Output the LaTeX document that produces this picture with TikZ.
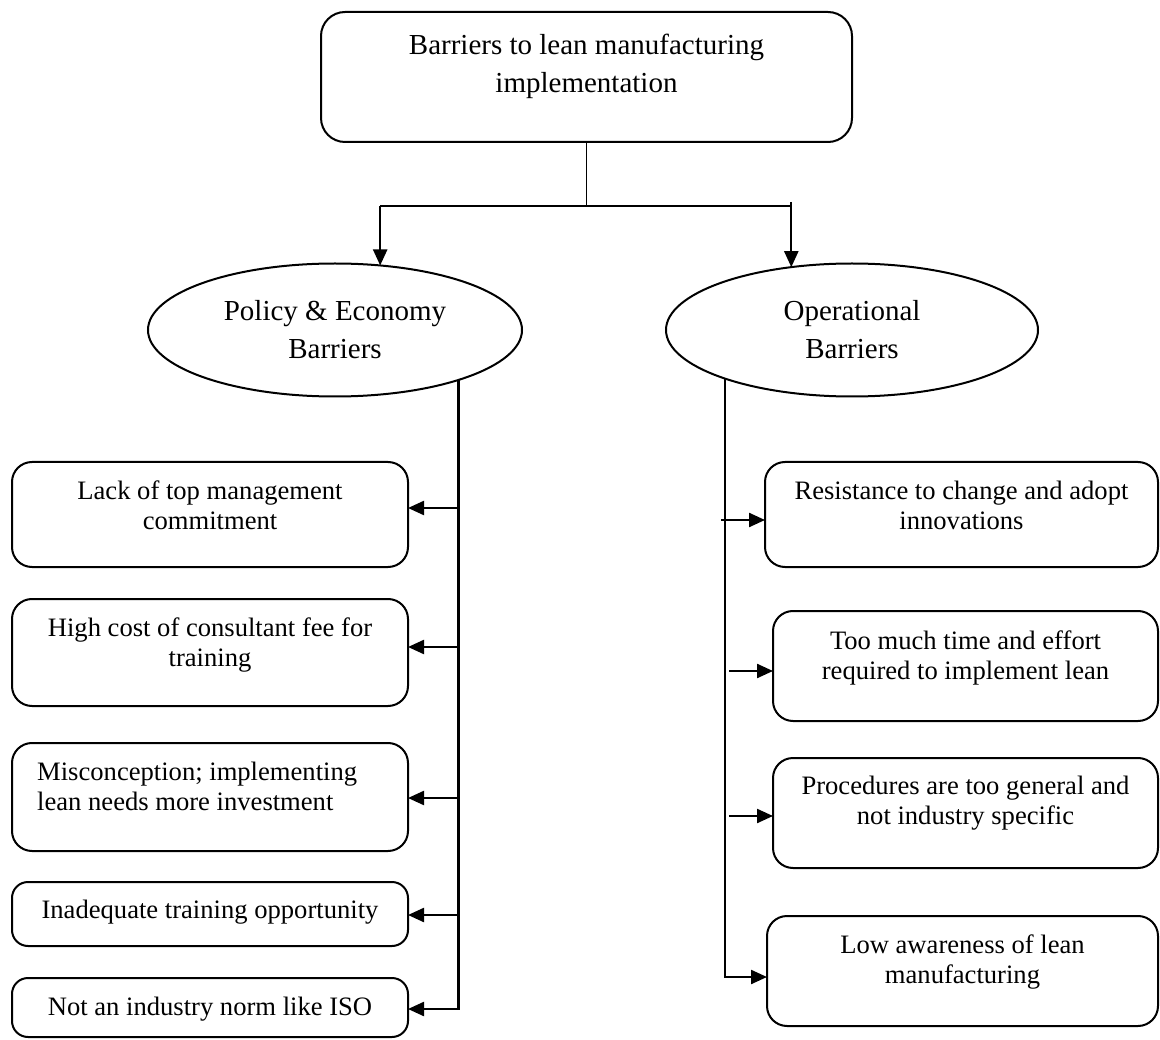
\documentclass[tikz,border=0pt]{standalone}
\usepackage{fontspec}
\setmainfont{Liberation Serif}
\usetikzlibrary{arrows.meta,shapes.geometric}

\begin{document}
\begin{tikzpicture}[x=1pt,y=-1pt,
  box/.style={draw, line width=2pt, rounded corners=20pt, inner sep=0pt, outer sep=0pt},
  ell/.style={draw, ellipse, line width=2pt, inner sep=0pt, outer sep=0pt,
    minimum height=133pt, align=center, font=\fontsize{29}{38}\selectfont},
  txt/.style={inner sep=0pt, align=center, anchor=north, font=\fontsize{26.6}{30}\selectfont},
  headtxt/.style={txt, font=\fontsize{29}{38}\selectfont},
  thinlink/.style={line width=1.6pt},
  link/.style={line width=2.3pt},
  arr/.style={line width=2.3pt, -{Triangle[length=16pt,width=14pt]}},
]
\useasboundingbox (0,0) rectangle (1160,1040);

% root
\node[box, rounded corners=24pt, minimum width=531pt, minimum height=130pt] (top) at (586.5,77) {};
\node[headtxt] (topt) at ([yshift=-15.4pt]top.north) {\strut Barriers to lean manufacturing\\implementation};

% two categories
\node[ell, minimum width=374pt] (pol) at (335,330) {Policy \& Economy\\Barriers};
\node[ell, minimum width=372pt] (op) at (852,330) {Operational\\Barriers};

% policy & economy barriers
\node[box, minimum width=396pt, minimum height=105pt] (p1) at (210,514.5) {};
\node[txt] (p1t) at ([yshift=-16pt]p1.north) {\strut Lack of top management\\commitment};
\node[box, minimum width=396pt, minimum height=107pt] (p2) at (210,652.5) {};
\node[txt] (p2t) at ([yshift=-16pt]p2.north) {\strut High cost of consultant fee for\\training};
\node[box, minimum width=396pt, minimum height=108pt] (p3) at (210,797) {};
\node[txt, align=left, anchor=north west] (p3t) at ([xshift=25pt,yshift=-16pt]p3.north west) {\strut Misconception; implementing\\lean needs more investment};
\node[box, rounded corners=16pt, minimum width=396pt, minimum height=64pt] (p4) at (210,914) {};
\node[txt] (p4t) at ([yshift=-15pt]p4.north) {\strut Inadequate training opportunity};
\node[box, rounded corners=16pt, minimum width=396pt, minimum height=59pt] (p5) at (210,1007.5) {};
\node[txt] (p5t) at ([yshift=-16pt]p5.north) {\strut Not an industry norm like ISO};

% operational barriers
\node[box, minimum width=393pt, minimum height=105pt] (o1) at (961.5,514.5) {};
\node[txt] (o1t) at ([yshift=-16pt]o1.north) {\strut Resistance to change and adopt\\innovations};
\node[box, minimum width=385pt, minimum height=110pt] (o2) at (965.5,666) {};
\node[txt] (o2t) at ([yshift=-17pt]o2.north) {\strut Too much time and effort\\required to implement lean};
\node[box, minimum width=385pt, minimum height=110pt] (o3) at (965.5,813) {};
\node[txt] (o3t) at ([yshift=-15pt]o3.north) {\strut Procedures are too general and\\not industry specific};
\node[box, minimum width=391pt, minimum height=110pt] (o4) at (962.5,971) {};
\node[txt] (o4t) at ([yshift=-16pt]o4.north) {\strut Low awareness of lean\\manufacturing};

% root to categories
\coordinate (barmid) at (586.5,206);
\coordinate (jl) at (pol.55 |- barmid);
\coordinate (jr) at (op.134 |- barmid);
\coordinate (jrtop) at ([yshift=4pt]jr);
\draw[thinlink] (top.south) -- (barmid);
\draw[thinlink] (jl) -- (jr);
\draw[arr] (jl) -- (pol.55);
\draw[arr] (jrtop) -- (op.134);

% left spine
\coordinate (ls) at (pol.-22);
\coordinate (q1) at ([yshift=6.5pt]p1.east);
\coordinate (q2) at ([yshift=5.5pt]p2.east);
\coordinate (q3) at ([yshift=-1pt]p3.east);
\coordinate (q4) at ([yshift=-1pt]p4.east);
\coordinate (q5) at ([yshift=-1.5pt]p5.east);
\draw[arr] (ls) |- (q5);
\draw[arr] (ls |- q1) -- (q1);
\draw[arr] (ls |- q2) -- (q2);
\draw[arr] (ls |- q3) -- (q3);
\draw[arr] (ls |- q4) -- (q4);

% right spine
\coordinate (rs) at (op.201);
\coordinate (e1) at ([yshift=-5.5pt]o1.west);
\coordinate (e2) at ([yshift=-5pt]o2.west);
\coordinate (e3) at ([yshift=-3pt]o3.west);
\coordinate (e4) at ([yshift=-6pt]o4.west);
\coordinate (s1) at (721,520);
\coordinate (s2) at (729,671);
\coordinate (s3) at (729,816);
\draw[arr] (rs) |- (e4);
\draw[arr] (s1) -- (e1);
\draw[arr] (s2) -- (e2);
\draw[arr] (s3) -- (e3);
\end{tikzpicture}
\end{document}
